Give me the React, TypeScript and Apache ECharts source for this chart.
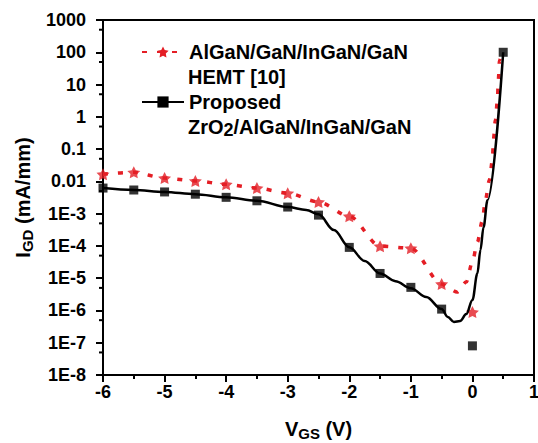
import React, { useEffect, useRef } from "react";
import * as echarts from "echarts";

// Proposed ZrO2/AlGaN/InGaN/GaN : measured points (squares)
const squareVgs = [-6, -5.5, -5, -4.5, -4, -3.5, -3, -2.5, -2, -1.5, -1, -0.5, 0, 0.5];
const squareIgd = [6.2e-3, 5.4e-3, 4.7e-3, 4.0e-3, 3.2e-3, 2.5e-3, 1.6e-3, 9e-4, 9e-5, 1.4e-5, 5.2e-6, 1.1e-6, 8e-8, 100];

// Proposed : fitted solid curve
const blackLineVgs = [-6, -5.5, -5, -4.5, -4, -3.5, -3, -2.7, -2.5, -2.25, -2, -1.75, -1.5, -1.25, -1, -0.75, -0.5, -0.4, -0.3, -0.2, -0.1, 0, 0.08, 0.13, 0.18, 0.245, 0.5];
const blackLineIgd = [6.2e-3, 5.4e-3, 4.7e-3, 4.0e-3, 3.2e-3, 2.5e-3, 1.6e-3, 1.3e-3, 9.5e-4, 3.1e-4, 9.1e-5, 3.4e-5, 1.4e-5, 8.1e-6, 4.9e-6, 2.6e-6, 1.1e-6, 6.3e-7, 4.4e-7, 4.7e-7, 7.7e-7, 2.1e-6, 1.4e-5, 7.4e-5, 3.8e-4, 2.6e-3, 100];

// AlGaN/GaN/InGaN/GaN HEMT [10] : stars
const starVgs = [-6, -5.5, -5, -4.5, -4, -3.5, -3, -2.5, -2, -1.5, -1, -0.5, 0];
const starIgd = [0.0166, 0.019, 0.0126, 0.0103, 0.0081, 0.0062, 0.0043, 0.0023, 8.3e-4, 9.8e-5, 8.5e-5, 6.6e-6, 8.9e-7];

// AlGaN/GaN/InGaN/GaN HEMT [10] : dotted curve
const redLineVgs = [-6, -5.5, -5, -4.5, -4, -3.5, -3, -2.5, -2, -1.5, -1, -0.5, -0.37, -0.25, -0.1, 0, 0.08, 0.16, 0.21, 0.276, 0.325, 0.34, 0.373, 0.406, 0.42, 0.44, 0.47];
const redLineIgd = [0.0166, 0.019, 0.0126, 0.0103, 0.0081, 0.0062, 0.0043, 0.0023, 8.3e-4, 9.8e-5, 8.5e-5, 6.6e-6, 4.6e-6, 3.7e-6, 7.6e-6, 3.2e-5, 1.3e-4, 5.9e-4, 2.6e-3, 0.011, 0.046, 0.19, 0.79, 3.3, 13.5, 56, 100];

// Axis
const xMin = -6;
const xMax = 1;
const yMin = 1e-8;
const yMax = 1000;
const yMinorTicks = [5e-8, 5e-7, 5e-6, 5e-5, 5e-4, 5e-3, 0.05, 0.5, 5, 50, 500];

const legendNames = ["AlGaN/GaN/InGaN/GaN", "Proposed"];
const legendSecondLines = ["HEMT [10]", "ZrO{s|2}/AlGaN/InGaN/GaN"];

const FONT = "'Liberation Sans', Arial, Helvetica, sans-serif";
const RED = "#e41e25";
const STAR =
  "path://M0,-10 L2.939,-4.045 L9.511,-3.09 L4.755,1.545 L5.878,8.09 L0,5 L-5.878,8.09 L-4.755,1.545 L-9.511,-3.09 L-2.939,-4.045 Z";

const zip = (xs: number[], ys: number[]) => xs.map((x, i) => [x, ys[i]]);

const yLabel = (v: number) => {
  const e = Math.round(Math.log10(v));
  if (e >= -2) {
    if (e >= 0) return String(Math.pow(10, e));
    return e === -1 ? "0.1" : "0.01";
  }
  return "1E" + e;
};

export default function App() {
  const ref = useRef<HTMLDivElement>(null);
  useEffect(() => {
    const chart = echarts.init(ref.current!, null, { renderer: "svg" });
    const richName = {
      b: { fontSize: 20, fontWeight: "bold", fontFamily: FONT, color: "#000", lineHeight: 24, verticalAlign: "middle" },
      s: { fontSize: 15, fontWeight: "bold", fontFamily: FONT, color: "#000", lineHeight: 12, verticalAlign: "bottom" },
    };
    chart.setOption({
      animation: false,
      backgroundColor: "#fff",
      grid: {
        left: 103,
        right: 4,
        top: 20,
        bottom: 68,
        show: true,
        borderColor: "#000",
        borderWidth: 2,
        backgroundColor: "transparent",
        containLabel: false,
        outerBoundsMode: "none",
      },
      legend: {
        orient: "vertical",
        left: 141,
        top: 42,
        padding: 0,
        itemWidth: 42,
        itemHeight: 14,
        itemGap: 30,
        data: legendNames,
        textStyle: { fontFamily: FONT, fontSize: 20, fontWeight: "bold", color: "#000", lineHeight: 20 },
      },
      graphic: [
        {
          type: "text",
          x: 188,
          y: 77,
          style: {
            text: legendSecondLines[0],
            fontFamily: FONT,
            fontSize: 20,
            fontWeight: "bold",
            fill: "#000",
            verticalAlign: "middle",
          },
        },
        {
          type: "text",
          x: 188,
          y: 127,
          style: {
            text: legendSecondLines[1],
            fontFamily: FONT,
            fontSize: 20,
            fontWeight: "bold",
            fill: "#000",
            verticalAlign: "middle",
            lineHeight: 24,
            rich: {
              s: { fontSize: 18, fontWeight: "bold", fontFamily: FONT, fill: "#000", lineHeight: 10, verticalAlign: "bottom" },
            },
          },
        },
      ],
      xAxis: {
        type: "value",
        min: xMin,
        max: xMax,
        interval: 1,
        name: "{b|V}{s|GS}{b| (V)}",
        nameLocation: "middle",
        nameGap: 42,
        nameTextStyle: { rich: richName },
        axisLine: { onZero: false, lineStyle: { color: "#000", width: 2 } },
        axisTick: { length: 7, lineStyle: { color: "#000", width: 2 } },
        minorTick: { show: true, splitNumber: 2, length: 4, lineStyle: { color: "#000", width: 2 } },
        splitLine: { show: false },
        axisLabel: {
          margin: 8,
          color: "#000",
          fontFamily: FONT,
          fontSize: 18,
          fontWeight: "bold",
          formatter: (v: number) => String(v),
        },
      },
      yAxis: {
        type: "log",
        logBase: 10,
        min: yMin,
        max: yMax,
        interval: 1,
        splitNumber: 11,
        name: "{b|I}{s|GD}{b| (mA/mm)}",
        nameLocation: "middle",
        nameGap: 68,
        nameTextStyle: { rich: richName },
        axisLine: { onZero: false, lineStyle: { color: "#000", width: 2 } },
        axisTick: { length: 7, lineStyle: { color: "#000", width: 2 } },
        minorTick: { show: false },
        splitLine: { show: false },
        axisLabel: {
          margin: 17,
          color: "#000",
          fontFamily: FONT,
          fontSize: 18,
          fontWeight: "bold",
          formatter: yLabel,
        },
      },
      series: [
        {
          name: legendNames[0],
          type: "line",
          data: zip(redLineVgs, redLineIgd),
          smooth: 0.3,
          smoothMonotone: "x",
          symbol: STAR,
          showSymbol: false,
          color: RED,
          lineStyle: { color: RED, width: 3.5, type: [5, 10] },
          z: 2,
        },
        {
          name: "stars",
          type: "scatter",
          data: zip(starVgs, starIgd),
          symbol: STAR,
          symbolSize: [13, 12],
          itemStyle: { color: RED },
          z: 3,
        },
        {
          name: legendNames[1],
          type: "line",
          data: zip(blackLineVgs, blackLineIgd),
          smooth: 0.35,
          smoothMonotone: "x",
          symbol: "rect",
          showSymbol: false,
          color: "#000",
          lineStyle: { color: "#000", width: 2.5 },
          z: 4,
        },
        {
          name: "squares",
          type: "scatter",
          data: zip(squareVgs, squareIgd),
          symbol: "rect",
          symbolSize: 9,
          itemStyle: { color: "#000" },
          z: 5,
        },
        {
          name: "yMinor",
          type: "custom",
          silent: true,
          data: yMinorTicks.map((v) => [xMin, v]),
          renderItem: (_params: any, api: any) => {
            const p = api.coord([api.value(0), api.value(1)]);
            return {
              type: "line",
              shape: { x1: p[0] - 4, y1: p[1], x2: p[0], y2: p[1] },
              style: { stroke: "#000", lineWidth: 2 },
            };
          },
          z: 6,
        },
      ],
    });
    return () => chart.dispose();
  }, []);
  return <div ref={ref} style={{ position: "fixed", left: 0, top: 0, width: 538, height: 443 }} />;
}
